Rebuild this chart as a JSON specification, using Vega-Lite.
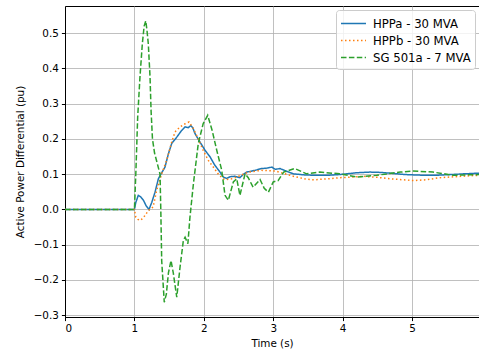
{
  "$schema": "https://vega.github.io/schema/vega-lite/v6.json",
  "autosize": "none",
  "padding": {"left": 65, "top": 6, "right": 0, "bottom": 34},
  "width": 414,
  "height": 311,
  "background": "white",
  "config": {
    "font": "DejaVu Sans",
    "view": {"stroke": "black", "strokeWidth": 1},
    "axis": {
      "labelFont": "DejaVu Sans", "labelFontSize": 10.4, "labelColor": "black",
      "titleFont": "DejaVu Sans", "titleFontSize": 10.4, "titleFontWeight": "normal", "titleColor": "black",
      "domainColor": "black", "tickColor": "black", "tickSize": 3.6, "labelPadding": 3,
      "gridColor": "#b0b0b0", "gridWidth": 0.8, "gridOpacity": 1
    }
  },
  "data": {"values": [
    {"series":"HPPa - 30 MVA","t":0,"p":0},{"series":"HPPa - 30 MVA","t":1.0,"p":0},{"series":"HPPa - 30 MVA","t":1.02,"p":0.02},{"series":"HPPa - 30 MVA","t":1.056,"p":0.04},{"series":"HPPa - 30 MVA","t":1.09,"p":0.036},{"series":"HPPa - 30 MVA","t":1.13,"p":0.026},{"series":"HPPa - 30 MVA","t":1.17,"p":0.01},{"series":"HPPa - 30 MVA","t":1.21,"p":0},{"series":"HPPa - 30 MVA","t":1.25,"p":0.02},{"series":"HPPa - 30 MVA","t":1.297,"p":0.049},{"series":"HPPa - 30 MVA","t":1.345,"p":0.087},{"series":"HPPa - 30 MVA","t":1.393,"p":0.104},{"series":"HPPa - 30 MVA","t":1.44,"p":0.12},{"series":"HPPa - 30 MVA","t":1.49,"p":0.158},{"series":"HPPa - 30 MVA","t":1.537,"p":0.187},{"series":"HPPa - 30 MVA","t":1.61,"p":0.205},{"series":"HPPa - 30 MVA","t":1.68,"p":0.224},{"series":"HPPa - 30 MVA","t":1.73,"p":0.234},{"series":"HPPa - 30 MVA","t":1.777,"p":0.232},{"series":"HPPa - 30 MVA","t":1.81,"p":0.238},{"series":"HPPa - 30 MVA","t":1.84,"p":0.232},{"series":"HPPa - 30 MVA","t":1.873,"p":0.215},{"series":"HPPa - 30 MVA","t":1.945,"p":0.191},{"series":"HPPa - 30 MVA","t":2.017,"p":0.168},{"series":"HPPa - 30 MVA","t":2.09,"p":0.149},{"series":"HPPa - 30 MVA","t":2.16,"p":0.125},{"series":"HPPa - 30 MVA","t":2.233,"p":0.106},{"series":"HPPa - 30 MVA","t":2.28,"p":0.092},{"series":"HPPa - 30 MVA","t":2.33,"p":0.088},{"series":"HPPa - 30 MVA","t":2.38,"p":0.093},{"series":"HPPa - 30 MVA","t":2.45,"p":0.094},{"series":"HPPa - 30 MVA","t":2.52,"p":0.09},{"series":"HPPa - 30 MVA","t":2.57,"p":0.1},{"series":"HPPa - 30 MVA","t":2.62,"p":0.106},{"series":"HPPa - 30 MVA","t":2.74,"p":0.111},{"series":"HPPa - 30 MVA","t":2.83,"p":0.116},{"series":"HPPa - 30 MVA","t":2.9,"p":0.117},{"series":"HPPa - 30 MVA","t":2.98,"p":0.12},{"series":"HPPa - 30 MVA","t":3.03,"p":0.114},{"series":"HPPa - 30 MVA","t":3.1,"p":0.116},{"series":"HPPa - 30 MVA","t":3.17,"p":0.11},{"series":"HPPa - 30 MVA","t":3.29,"p":0.101},{"series":"HPPa - 30 MVA","t":3.45,"p":0.098},{"series":"HPPa - 30 MVA","t":3.58,"p":0.097},{"series":"HPPa - 30 MVA","t":3.8,"p":0.097},{"series":"HPPa - 30 MVA","t":3.96,"p":0.099},{"series":"HPPa - 30 MVA","t":4.2,"p":0.104},{"series":"HPPa - 30 MVA","t":4.39,"p":0.106},{"series":"HPPa - 30 MVA","t":4.55,"p":0.105},{"series":"HPPa - 30 MVA","t":4.68,"p":0.103},{"series":"HPPa - 30 MVA","t":4.9,"p":0.099},{"series":"HPPa - 30 MVA","t":5.16,"p":0.097},{"series":"HPPa - 30 MVA","t":5.35,"p":0.097},{"series":"HPPa - 30 MVA","t":5.55,"p":0.099},{"series":"HPPa - 30 MVA","t":5.75,"p":0.101},{"series":"HPPa - 30 MVA","t":5.97,"p":0.103},
    {"series":"HPPb - 30 MVA","t":0,"p":0},{"series":"HPPb - 30 MVA","t":1.0,"p":0},{"series":"HPPb - 30 MVA","t":1.02,"p":-0.022},{"series":"HPPb - 30 MVA","t":1.05,"p":-0.028},{"series":"HPPb - 30 MVA","t":1.08,"p":-0.031},{"series":"HPPb - 30 MVA","t":1.11,"p":-0.027},{"series":"HPPb - 30 MVA","t":1.153,"p":-0.017},{"series":"HPPb - 30 MVA","t":1.2,"p":-0.003},{"series":"HPPb - 30 MVA","t":1.27,"p":0.007},{"series":"HPPb - 30 MVA","t":1.32,"p":0.054},{"series":"HPPb - 30 MVA","t":1.393,"p":0.101},{"series":"HPPb - 30 MVA","t":1.465,"p":0.139},{"series":"HPPb - 30 MVA","t":1.537,"p":0.191},{"series":"HPPb - 30 MVA","t":1.585,"p":0.22},{"series":"HPPb - 30 MVA","t":1.657,"p":0.234},{"series":"HPPb - 30 MVA","t":1.73,"p":0.243},{"series":"HPPb - 30 MVA","t":1.787,"p":0.248},{"series":"HPPb - 30 MVA","t":1.85,"p":0.229},{"series":"HPPb - 30 MVA","t":1.92,"p":0.2},{"series":"HPPb - 30 MVA","t":1.99,"p":0.168},{"series":"HPPb - 30 MVA","t":2.065,"p":0.139},{"series":"HPPb - 30 MVA","t":2.137,"p":0.12},{"series":"HPPb - 30 MVA","t":2.21,"p":0.1},{"series":"HPPb - 30 MVA","t":2.26,"p":0.09},{"series":"HPPb - 30 MVA","t":2.305,"p":0.084},{"series":"HPPb - 30 MVA","t":2.4,"p":0.087},{"series":"HPPb - 30 MVA","t":2.5,"p":0.094},{"series":"HPPb - 30 MVA","t":2.64,"p":0.106},{"series":"HPPb - 30 MVA","t":2.83,"p":0.111},{"series":"HPPb - 30 MVA","t":3.03,"p":0.109},{"series":"HPPb - 30 MVA","t":3.17,"p":0.101},{"series":"HPPb - 30 MVA","t":3.29,"p":0.094},{"series":"HPPb - 30 MVA","t":3.45,"p":0.087},{"series":"HPPb - 30 MVA","t":3.58,"p":0.084},{"series":"HPPb - 30 MVA","t":3.8,"p":0.087},{"series":"HPPb - 30 MVA","t":3.96,"p":0.09},{"series":"HPPb - 30 MVA","t":4.3,"p":0.094},{"series":"HPPb - 30 MVA","t":4.5,"p":0.091},{"series":"HPPb - 30 MVA","t":4.68,"p":0.087},{"series":"HPPb - 30 MVA","t":5.02,"p":0.082},{"series":"HPPb - 30 MVA","t":5.2,"p":0.084},{"series":"HPPb - 30 MVA","t":5.4,"p":0.09},{"series":"HPPb - 30 MVA","t":5.7,"p":0.094},{"series":"HPPb - 30 MVA","t":5.97,"p":0.097},
    {"series":"SG 501a - 7 MVA","t":0,"p":0},{"series":"SG 501a - 7 MVA","t":1.0,"p":0},{"series":"SG 501a - 7 MVA","t":1.02,"p":0.1},{"series":"SG 501a - 7 MVA","t":1.047,"p":0.262},{"series":"SG 501a - 7 MVA","t":1.08,"p":0.376},{"series":"SG 501a - 7 MVA","t":1.114,"p":0.47},{"series":"SG 501a - 7 MVA","t":1.14,"p":0.52},{"series":"SG 501a - 7 MVA","t":1.163,"p":0.535},{"series":"SG 501a - 7 MVA","t":1.18,"p":0.51},{"series":"SG 501a - 7 MVA","t":1.2,"p":0.47},{"series":"SG 501a - 7 MVA","t":1.225,"p":0.376},{"series":"SG 501a - 7 MVA","t":1.24,"p":0.28},{"series":"SG 501a - 7 MVA","t":1.26,"p":0.2},{"series":"SG 501a - 7 MVA","t":1.29,"p":0.16},{"series":"SG 501a - 7 MVA","t":1.33,"p":0.13},{"series":"SG 501a - 7 MVA","t":1.369,"p":0.1},{"series":"SG 501a - 7 MVA","t":1.38,"p":0.0},{"series":"SG 501a - 7 MVA","t":1.393,"p":-0.145},{"series":"SG 501a - 7 MVA","t":1.43,"p":-0.263},{"series":"SG 501a - 7 MVA","t":1.46,"p":-0.24},{"series":"SG 501a - 7 MVA","t":1.49,"p":-0.18},{"series":"SG 501a - 7 MVA","t":1.527,"p":-0.145},{"series":"SG 501a - 7 MVA","t":1.56,"p":-0.18},{"series":"SG 501a - 7 MVA","t":1.61,"p":-0.249},{"series":"SG 501a - 7 MVA","t":1.657,"p":-0.164},{"series":"SG 501a - 7 MVA","t":1.705,"p":-0.088},{"series":"SG 501a - 7 MVA","t":1.73,"p":-0.079},{"series":"SG 501a - 7 MVA","t":1.77,"p":-0.097},{"series":"SG 501a - 7 MVA","t":1.8,"p":-0.022},{"series":"SG 501a - 7 MVA","t":1.85,"p":0.073},{"series":"SG 501a - 7 MVA","t":1.92,"p":0.187},{"series":"SG 501a - 7 MVA","t":1.99,"p":0.243},{"series":"SG 501a - 7 MVA","t":2.056,"p":0.267},{"series":"SG 501a - 7 MVA","t":2.12,"p":0.224},{"series":"SG 501a - 7 MVA","t":2.186,"p":0.168},{"series":"SG 501a - 7 MVA","t":2.258,"p":0.111},{"series":"SG 501a - 7 MVA","t":2.305,"p":0.04},{"series":"SG 501a - 7 MVA","t":2.353,"p":0.026},{"series":"SG 501a - 7 MVA","t":2.425,"p":0.078},{"series":"SG 501a - 7 MVA","t":2.474,"p":0.087},{"series":"SG 501a - 7 MVA","t":2.52,"p":0.04},{"series":"SG 501a - 7 MVA","t":2.594,"p":0.101},{"series":"SG 501a - 7 MVA","t":2.64,"p":0.09},{"series":"SG 501a - 7 MVA","t":2.71,"p":0.063},{"series":"SG 501a - 7 MVA","t":2.81,"p":0.085},{"series":"SG 501a - 7 MVA","t":2.87,"p":0.06},{"series":"SG 501a - 7 MVA","t":2.93,"p":0.049},{"series":"SG 501a - 7 MVA","t":3.0,"p":0.078},{"series":"SG 501a - 7 MVA","t":3.07,"p":0.082},{"series":"SG 501a - 7 MVA","t":3.15,"p":0.106},{"series":"SG 501a - 7 MVA","t":3.31,"p":0.116},{"series":"SG 501a - 7 MVA","t":3.48,"p":0.101},{"series":"SG 501a - 7 MVA","t":3.67,"p":0.106},{"series":"SG 501a - 7 MVA","t":3.96,"p":0.101},{"series":"SG 501a - 7 MVA","t":4.2,"p":0.092},{"series":"SG 501a - 7 MVA","t":4.49,"p":0.097},{"series":"SG 501a - 7 MVA","t":4.83,"p":0.106},{"series":"SG 501a - 7 MVA","t":5.01,"p":0.109},{"series":"SG 501a - 7 MVA","t":5.3,"p":0.106},{"series":"SG 501a - 7 MVA","t":5.59,"p":0.097},{"series":"SG 501a - 7 MVA","t":5.97,"p":0.099}
  ]},
  "mark": {"type": "line", "strokeWidth": 1.5, "clip": true},
  "encoding": {
    "x": {
      "field": "t", "type": "quantitative",
      "scale": {"domain": [0, 5.964], "nice": false, "zero": false},
      "axis": {"title": "Time (s)", "values": [0,1,2,3,4,5], "format": "d", "titlePadding": 4}
    },
    "y": {
      "field": "p", "type": "quantitative",
      "scale": {"domain": [-0.305, 0.577], "nice": false, "zero": false},
      "axis": {"title": "Active Power Differential (pu)", "values": [-0.3,-0.2,-0.1,0,0.1,0.2,0.3,0.4,0.5], "format": ".1f", "titlePadding": 8}
    },
    "color": {
      "field": "series", "type": "nominal",
      "scale": {"domain": ["HPPa - 30 MVA","HPPb - 30 MVA","SG 501a - 7 MVA"], "range": ["#1f77b4","#ff7f0e","#2ca02c"]},
      "legend": {
        "title": null, "orient": "none", "legendX": 271, "legendY": 4,
        "symbolType": "M-1,0H1.94", "symbolSize": 289, "symbolStrokeWidth": 1.5,
        "labelFont": "DejaVu Sans", "labelFontSize": 11.7, "labelColor": "black", "labelOffset": 14,
        "fillColor": "rgba(255,255,255,0.8)", "strokeColor": "#cccccc", "cornerRadius": 3, "padding": 4, "rowPadding": 0
      }
    },
    "strokeDash": {
      "field": "series", "type": "nominal",
      "scale": {"domain": ["HPPa - 30 MVA","HPPb - 30 MVA","SG 501a - 7 MVA"], "range": [[1,0],[1.5,2.5],[5.5,2.4]]},
      "legend": null
    }
  }
}
